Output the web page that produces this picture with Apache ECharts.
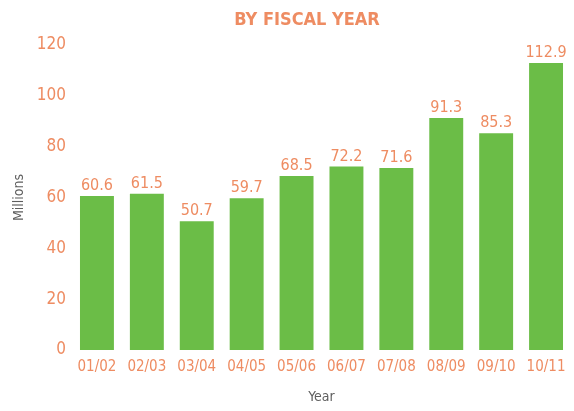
<!DOCTYPE html>
<html>
<head>
<meta charset="utf-8">
<script src="https://cdn.jsdelivr.net/npm/echarts@6/dist/echarts.min.js"></script>
<style>
  html, body { margin: 0; padding: 0; background: #fff; }
  #chart { width: 574px; height: 411px; }
</style>
</head>
<body>
<div id="chart"></div>
<script>
// Fiscal years and amounts (millions)
const years = ['01/02', '02/03', '03/04', '04/05', '05/06', '06/07', '07/08', '08/09', '09/10', '10/11'];
const amounts = [60.6, 61.5, 50.7, 59.7, 68.5, 72.2, 71.6, 91.3, 85.3, 112.9];

const orange = '#ee8c62';
const green = '#6bbd47';
const grey = '#5e5e5e';
const font = '"DejaVu Sans Condensed", "Open Sans", sans-serif';

const chart = echarts.init(document.getElementById('chart'));
chart.setOption({
  animation: false,
  title: {
    text: 'BY FISCAL YEAR',
    left: 302, top: 6, textAlign: 'center',
    textStyle: { color: orange, fontSize: 18, fontWeight: 'bold', fontFamily: font }
  },
  grid: { left: 72, right: 3, top: 45, bottom: 61 },
  xAxis: {
    type: 'category',
    data: years,
    name: 'Year',
    nameLocation: 'middle',
    nameGap: 40,
    nameTextStyle: { color: grey, fontSize: 14, fontFamily: font },
    axisLine: { show: false },
    axisTick: { show: false },
    axisLabel: { color: orange, fontSize: 15, margin: 10, interval: 0, fontFamily: font }
  },
  yAxis: {
    type: 'value',
    min: 0, max: 120, interval: 20,
    name: 'Millions',
    nameLocation: 'middle',
    nameGap: 46,
    nameTextStyle: { color: grey, fontSize: 14, fontFamily: font },
    splitLine: { show: false },
    axisLine: { show: false },
    axisTick: { show: false },
    axisLabel: { color: orange, fontSize: 17, margin: 6, fontFamily: font }
  },
  series: [{
    type: 'bar',
    data: amounts,
    barCategoryGap: '32%',
    itemStyle: { color: green },
    label: {
      show: true, position: 'top', distance: 2,
      color: orange, fontSize: 16, fontFamily: font
    }
  }]
});
</script>
</body>
</html>
